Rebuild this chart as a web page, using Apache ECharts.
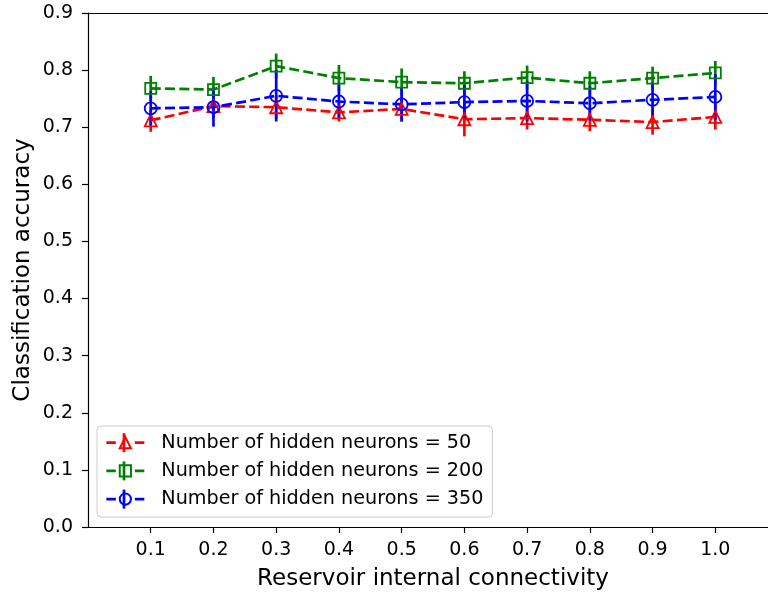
<!DOCTYPE html>
<html>
<head>
<meta charset="utf-8">
<script src="https://cdn.jsdelivr.net/npm/echarts@6/dist/echarts.min.js"></script>
<style>
  html, body { margin: 0; padding: 0; background: #fff; }
  #chart { width: 768px; height: 592px; }
</style>
</head>
<body>
<div id="chart"></div>
<script>
// Reservoir internal connectivity (x) vs. classification accuracy (y)
var connectivity = [0.1, 0.2, 0.3, 0.4, 0.5, 0.6, 0.7, 0.8, 0.9, 1.0];
var xTicks = [0.1, 0.2, 0.3, 0.4, 0.5, 0.6, 0.7, 0.8, 0.9, 1.0];

var acc50  = [0.712, 0.737, 0.735, 0.726, 0.732, 0.714, 0.716, 0.713, 0.709, 0.718];
var err50  = [0.020, 0.020, 0.020, 0.016, 0.022, 0.030, 0.020, 0.020, 0.022, 0.022];

var acc200 = [0.768, 0.766, 0.807, 0.786, 0.779, 0.777, 0.787, 0.777, 0.786, 0.795];
var err200 = [0.022, 0.022, 0.022, 0.023, 0.024, 0.021, 0.021, 0.021, 0.020, 0.021];

var acc350 = [0.733, 0.735, 0.755, 0.745, 0.740, 0.744, 0.746, 0.742, 0.748, 0.753];
var err350 = [0.030, 0.034, 0.045, 0.030, 0.030, 0.030, 0.035, 0.030, 0.030, 0.040];

var names = [
  'Number of hidden neurons = 50',
  'Number of hidden neurons = 200',
  'Number of hidden neurons = 350'
];
var colors = ['#ff0000', '#008000', '#0000ff'];
var yTitle = 'Classification accuracy';

var FONT = 'DejaVu Sans';

// The x range runs past the right edge of the canvas (axis would end at 1.1)
var X_MAX = 1.084;

function lineSeries(name, ys, color, symbol, size) {
  return {
    name: name,
    type: 'line',
    data: connectivity.map(function (x, i) { return [x, ys[i]]; }),
    symbol: symbol,
    symbolSize: size,
    showSymbol: true,
    itemStyle: { color: 'rgba(255,255,255,0)', borderColor: color, borderWidth: 1.8 },
    lineStyle: { color: color, width: 2.7, type: [10, 4.3] },
    emphasis: { disabled: true },
    z: 3
  };
}

function errSeries(name, ys, es, color) {
  return {
    name: name,
    type: 'custom',
    data: connectivity.map(function (x, i) { return [x, ys[i], es[i]]; }),
    renderItem: function (params, api) {
      var x = api.value(0), y = api.value(1), e = api.value(2);
      var p0 = api.coord([x, y - e]);
      var p1 = api.coord([x, y + e]);
      return {
        type: 'line',
        shape: { x1: p0[0], y1: p0[1], x2: p1[0], y2: p1[1] },
        style: { stroke: color, lineWidth: 2.7 }
      };
    },
    silent: true,
    z: 3
  };
}

// Legend layout
var LEG_LEFT = 97, LEG_TOP = 426, LEG_PAD = [6.7, 9, 8, 8];
var LEG_ROW = 20, LEG_GAP = 8.2, LEG_ICON_W = 38;

// Small vertical error-bar strokes across each legend icon
var decorations = colors.map(function (c, i) {
  var cx = LEG_LEFT + LEG_PAD[3] + LEG_ICON_W / 2;
  var cy = LEG_TOP + LEG_PAD[0] + LEG_ROW / 2 + i * (LEG_ROW + LEG_GAP);
  return {
    type: 'line',
    shape: { x1: cx, y1: cy - 9.5, x2: cx, y2: cy + 9.5 },
    style: { stroke: c, lineWidth: 2.7 },
    z: 200, silent: true
  };
});

// Vertical y-axis title, centred on the plot height
decorations.push({
  type: 'text',
  x: 23, y: 270,
  rotation: Math.PI / 2,
  style: {
    text: yTitle,
    fontFamily: FONT, fontSize: 23, fill: '#000',
    align: 'center', verticalAlign: 'middle'
  },
  silent: true
});

var chart = echarts.init(document.getElementById('chart'), null, { renderer: 'canvas' });

chart.setOption({
  animation: false,
  backgroundColor: '#fff',
  textStyle: { fontFamily: FONT },
  grid: { left: 88, top: 13, right: 0, bottom: 65, containLabel: false, outerBoundsMode: 'none' },
  xAxis: [{
    type: 'value',
    min: 0, max: X_MAX, interval: 0.1,
    name: 'Reservoir internal connectivity',
    nameLocation: 'middle',
    nameGap: 41,
    nameTextStyle: { fontFamily: FONT, fontSize: 23, color: '#000', padding: [0, 0, 0, 10] },
    axisLine: { show: true, lineStyle: { color: '#000', width: 1.2 } },
    axisTick: {
      show: true, length: 6, inside: false,
      customValues: xTicks,
      lineStyle: { color: '#000', width: 1.2 }
    },
    axisLabel: {
      customValues: xTicks,
      margin: 14,
      fontFamily: FONT, fontSize: 19, color: '#000',
      formatter: function (v) { return v.toFixed(1); }
    },
    splitLine: { show: false }
  }, {
    type: 'value',
    position: 'top',
    min: 0, max: X_MAX,
    axisLine: { show: true, lineStyle: { color: '#000', width: 1.2 } },
    axisTick: { show: false },
    axisLabel: { show: false },
    splitLine: { show: false }
  }],
  yAxis: {
    type: 'value',
    min: 0, max: 0.9, interval: 0.1,
    axisLine: { show: true, lineStyle: { color: '#000', width: 1.2 } },
    axisTick: { show: true, length: 6, inside: false, lineStyle: { color: '#000', width: 1.2 } },
    axisLabel: {
      margin: 15,
      fontFamily: FONT, fontSize: 19, color: '#000',
      formatter: function (v) { return v.toFixed(1); }
    },
    splitLine: { show: false }
  },
  legend: {
    data: names.map(function (n) {
      return { name: n, lineStyle: { type: [9.5, 19], width: 2.7 } };
    }),
    orient: 'vertical',
    left: LEG_LEFT, top: LEG_TOP,
    padding: LEG_PAD,
    itemWidth: LEG_ICON_W, itemHeight: 14, itemGap: LEG_GAP,
    backgroundColor: 'rgba(255,255,255,0.8)',
    borderColor: '#cccccc', borderWidth: 1, borderRadius: 4,
    textStyle: { fontFamily: FONT, fontSize: 19.2, color: '#000', lineHeight: LEG_ROW, padding: [0, 0, 0, 12] },
    selectedMode: false
  },
  graphic: decorations,
  series: [
    lineSeries(names[0], acc50, colors[0], 'triangle', 12),
    errSeries('err50', acc50, err50, colors[0]),
    lineSeries(names[1], acc200, colors[1], 'rect', 11),
    errSeries('err200', acc200, err200, colors[1]),
    lineSeries(names[2], acc350, colors[2], 'circle', 12),
    errSeries('err350', acc350, err350, colors[2])
  ]
});
</script>
</body>
</html>
